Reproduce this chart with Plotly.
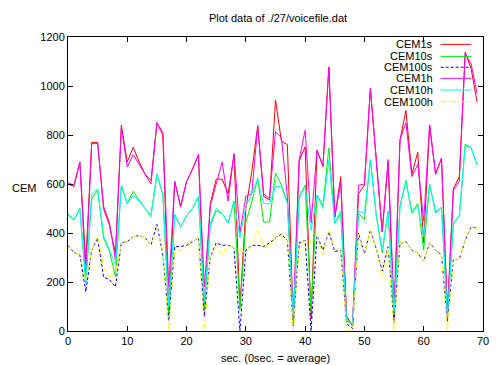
import plotly.graph_objects as go

seconds = list(range(70))

cem1s = [600, 590, 690, 275, 770, 770, 500, 430, 318, 840,
         690, 750, 690, 640, 615, 850, 800, 80, 610, 510,
         610, 660, 720, 100, 520, 620, 620, 560, 720, 100,
         500, 650, 838, 550, 535, 943, 775, 760, 40, 695,
         752, 50, 738, 675, 1078, 465, 630, 60, 20, 560,
         596, 990, 700, 405, 690, 40, 780, 900, 640, 730,
         360, 841, 640, 705, 80, 580, 630, 1138, 1070, 935]

cem10s = [473, 453, 500, 196, 540, 575, 380, 325, 222, 595,
          520, 570, 535, 500, 475, 640, 555, 60, 475, 425,
          470, 500, 550, 90, 430, 490, 480, 440, 530, 85,
          445, 527, 624, 445, 445, 645, 596, 527, 30, 548,
          596, 80, 555, 510, 747, 440, 480, 50, 20, 480,
          455, 698, 473, 320, 487, 60, 510, 615, 485, 520,
          330, 600, 485, 505, 70, 437, 470, 762, 748, 677]

cem100s = [350, 320, 310, 160, 330, 380, 220, 210, 180, 360,
           365, 385, 390, 380, 350, 435, 310, 40, 345, 345,
           350, 365, 380, 60, 300, 360, 350, 350, 340, 0,
           330, 350, 350, 345, 360, 380, 395, 370, 20, 360,
           370, 0, 390, 330, 405, 324, 330, 30, 10, 400,
           315, 412, 335, 245, 344, 30, 358, 365, 330, 318,
           285, 360, 330, 310, 40, 292, 292, 371, 426, 420]

cem1h = [605, 595, 690, 222, 765, 765, 510, 440, 290, 830,
         670, 720, 680, 640, 600, 850, 810, 180, 610, 505,
         610, 660, 720, 180, 510, 600, 690, 530, 725, 400,
         550, 560, 835, 560, 540, 813, 790, 550, 57, 700,
         820, 440, 738, 670, 1075, 465, 605, 40, 30, 595,
         600, 990, 705, 405, 700, 100, 780, 850, 630, 680,
         450, 841, 640, 705, 58, 575, 610, 1134, 1090, 970]

cem10h = [480, 455, 500, 200, 560, 580, 390, 330, 270, 590,
          520, 555, 530, 500, 465, 640, 560, 100, 475, 425,
          470, 500, 550, 120, 440, 500, 480, 440, 530, 380,
          510, 560, 620, 520, 520, 590, 590, 520, 60, 540,
          590, 410, 555, 500, 698, 440, 490, 40, 30, 490,
          480, 700, 470, 330, 490, 80, 505, 610, 480, 510,
          385, 600, 480, 505, 60, 440, 470, 755, 750, 677]

cem100h = [345, 320, 310, 208, 330, 390, 260, 220, 236, 355,
           365, 385, 390, 380, 350, 420, 320, 0, 330, 330,
           345, 365, 380, 0, 300, 350, 310, 350, 340, 330,
           320, 350, 410, 340, 350, 380, 390, 370, 0, 350,
           370, 360, 390, 310, 418, 330, 340, 0, 0, 395,
           310, 410, 340, 222, 340, 0, 360, 365, 330, 318,
           285, 360, 330, 310, 0, 292, 292, 370, 426, 415]

series_names = ["CEM1s", "CEM10s", "CEM100s", "CEM1h", "CEM10h", "CEM100h"]
series_values = [cem1s, cem10s, cem100s, cem1h, cem10h, cem100h]
series_colors = ["#ff0000", "#00ee00", "#0000ff", "#ff00ff", "#00ffff", "#ffff00"]
series_dash = ["solid", "solid", "3px,2px", "solid", "solid", "5px,2px,1px,2px"]

x_ticks = [0, 10, 20, 30, 40, 50, 60, 70]
y_ticks = [0, 200, 400, 600, 800, 1000, 1200]

FONT = "Liberation Sans, Arial, sans-serif"

# the page body has an 8px margin, so the figure is sized to fit the window
FIG_W, FIG_H = 490, 357

fig = go.Figure()
for name, vals, col, dash in zip(series_names, series_values, series_colors, series_dash):
    fig.add_trace(go.Scatter(x=seconds, y=vals, mode="lines", name=name,
                             line=dict(color=col, width=1, dash=dash),
                             showlegend=False))

# gnuplot-style legend: right-aligned text followed by a line sample
row_y = [0.975, 0.934, 0.897, 0.8595, 0.8197, 0.780]
for name, col, dash, yy in zip(series_names, series_colors, series_dash, row_y):
    fig.add_annotation(x=0.884, y=yy, xref="paper", yref="paper", text=name,
                       showarrow=False, xanchor="right", yanchor="middle",
                       font=dict(family=FONT, size=11, color="#000000"))
    fig.add_shape(type="line", xref="paper", yref="paper",
                  x0=0.898, x1=0.9715, y0=yy, y1=yy,
                  line=dict(color=col, width=1, dash=dash))

fig.add_annotation(x=-0.107, y=0.486, xref="paper", yref="paper", text="CEM",
                   showarrow=False, xanchor="center", yanchor="middle",
                   font=dict(family=FONT, size=11, color="#000000"))
fig.add_annotation(x=0.5, y=-0.092, xref="paper", yref="paper",
                   text="sec. (0sec. = average)", showarrow=False,
                   xanchor="center", yanchor="middle",
                   font=dict(family=FONT, size=11, color="#000000"))

axis_common = dict(showgrid=False, zeroline=False, showline=True, linecolor="#000000",
                   linewidth=1, mirror="ticks", ticks="inside", ticklen=5,
                   tickcolor="#000000", tickwidth=1,
                   tickfont=dict(family=FONT, size=11, color="#000000"))

fig.update_xaxes(range=[0, 70], tickvals=x_ticks, ticktext=[str(v) for v in x_ticks],
                 **axis_common)
fig.update_yaxes(range=[0, 1200], tickvals=y_ticks, ticktext=[str(v) for v in y_ticks],
                 **axis_common)

fig.update_layout(
    width=FIG_W, height=FIG_H,
    margin=dict(l=60, r=9, t=29, b=34),
    paper_bgcolor="#ffffff", plot_bgcolor="#ffffff",
    title=dict(text="Plot data of ./27/voicefile.dat", x=270 / FIG_W, xanchor="center",
               y=1 - 10 / FIG_H, yanchor="middle",
               font=dict(family=FONT, size=11, color="#000000")),
    showlegend=False,
)

fig.write_html("out.html")
